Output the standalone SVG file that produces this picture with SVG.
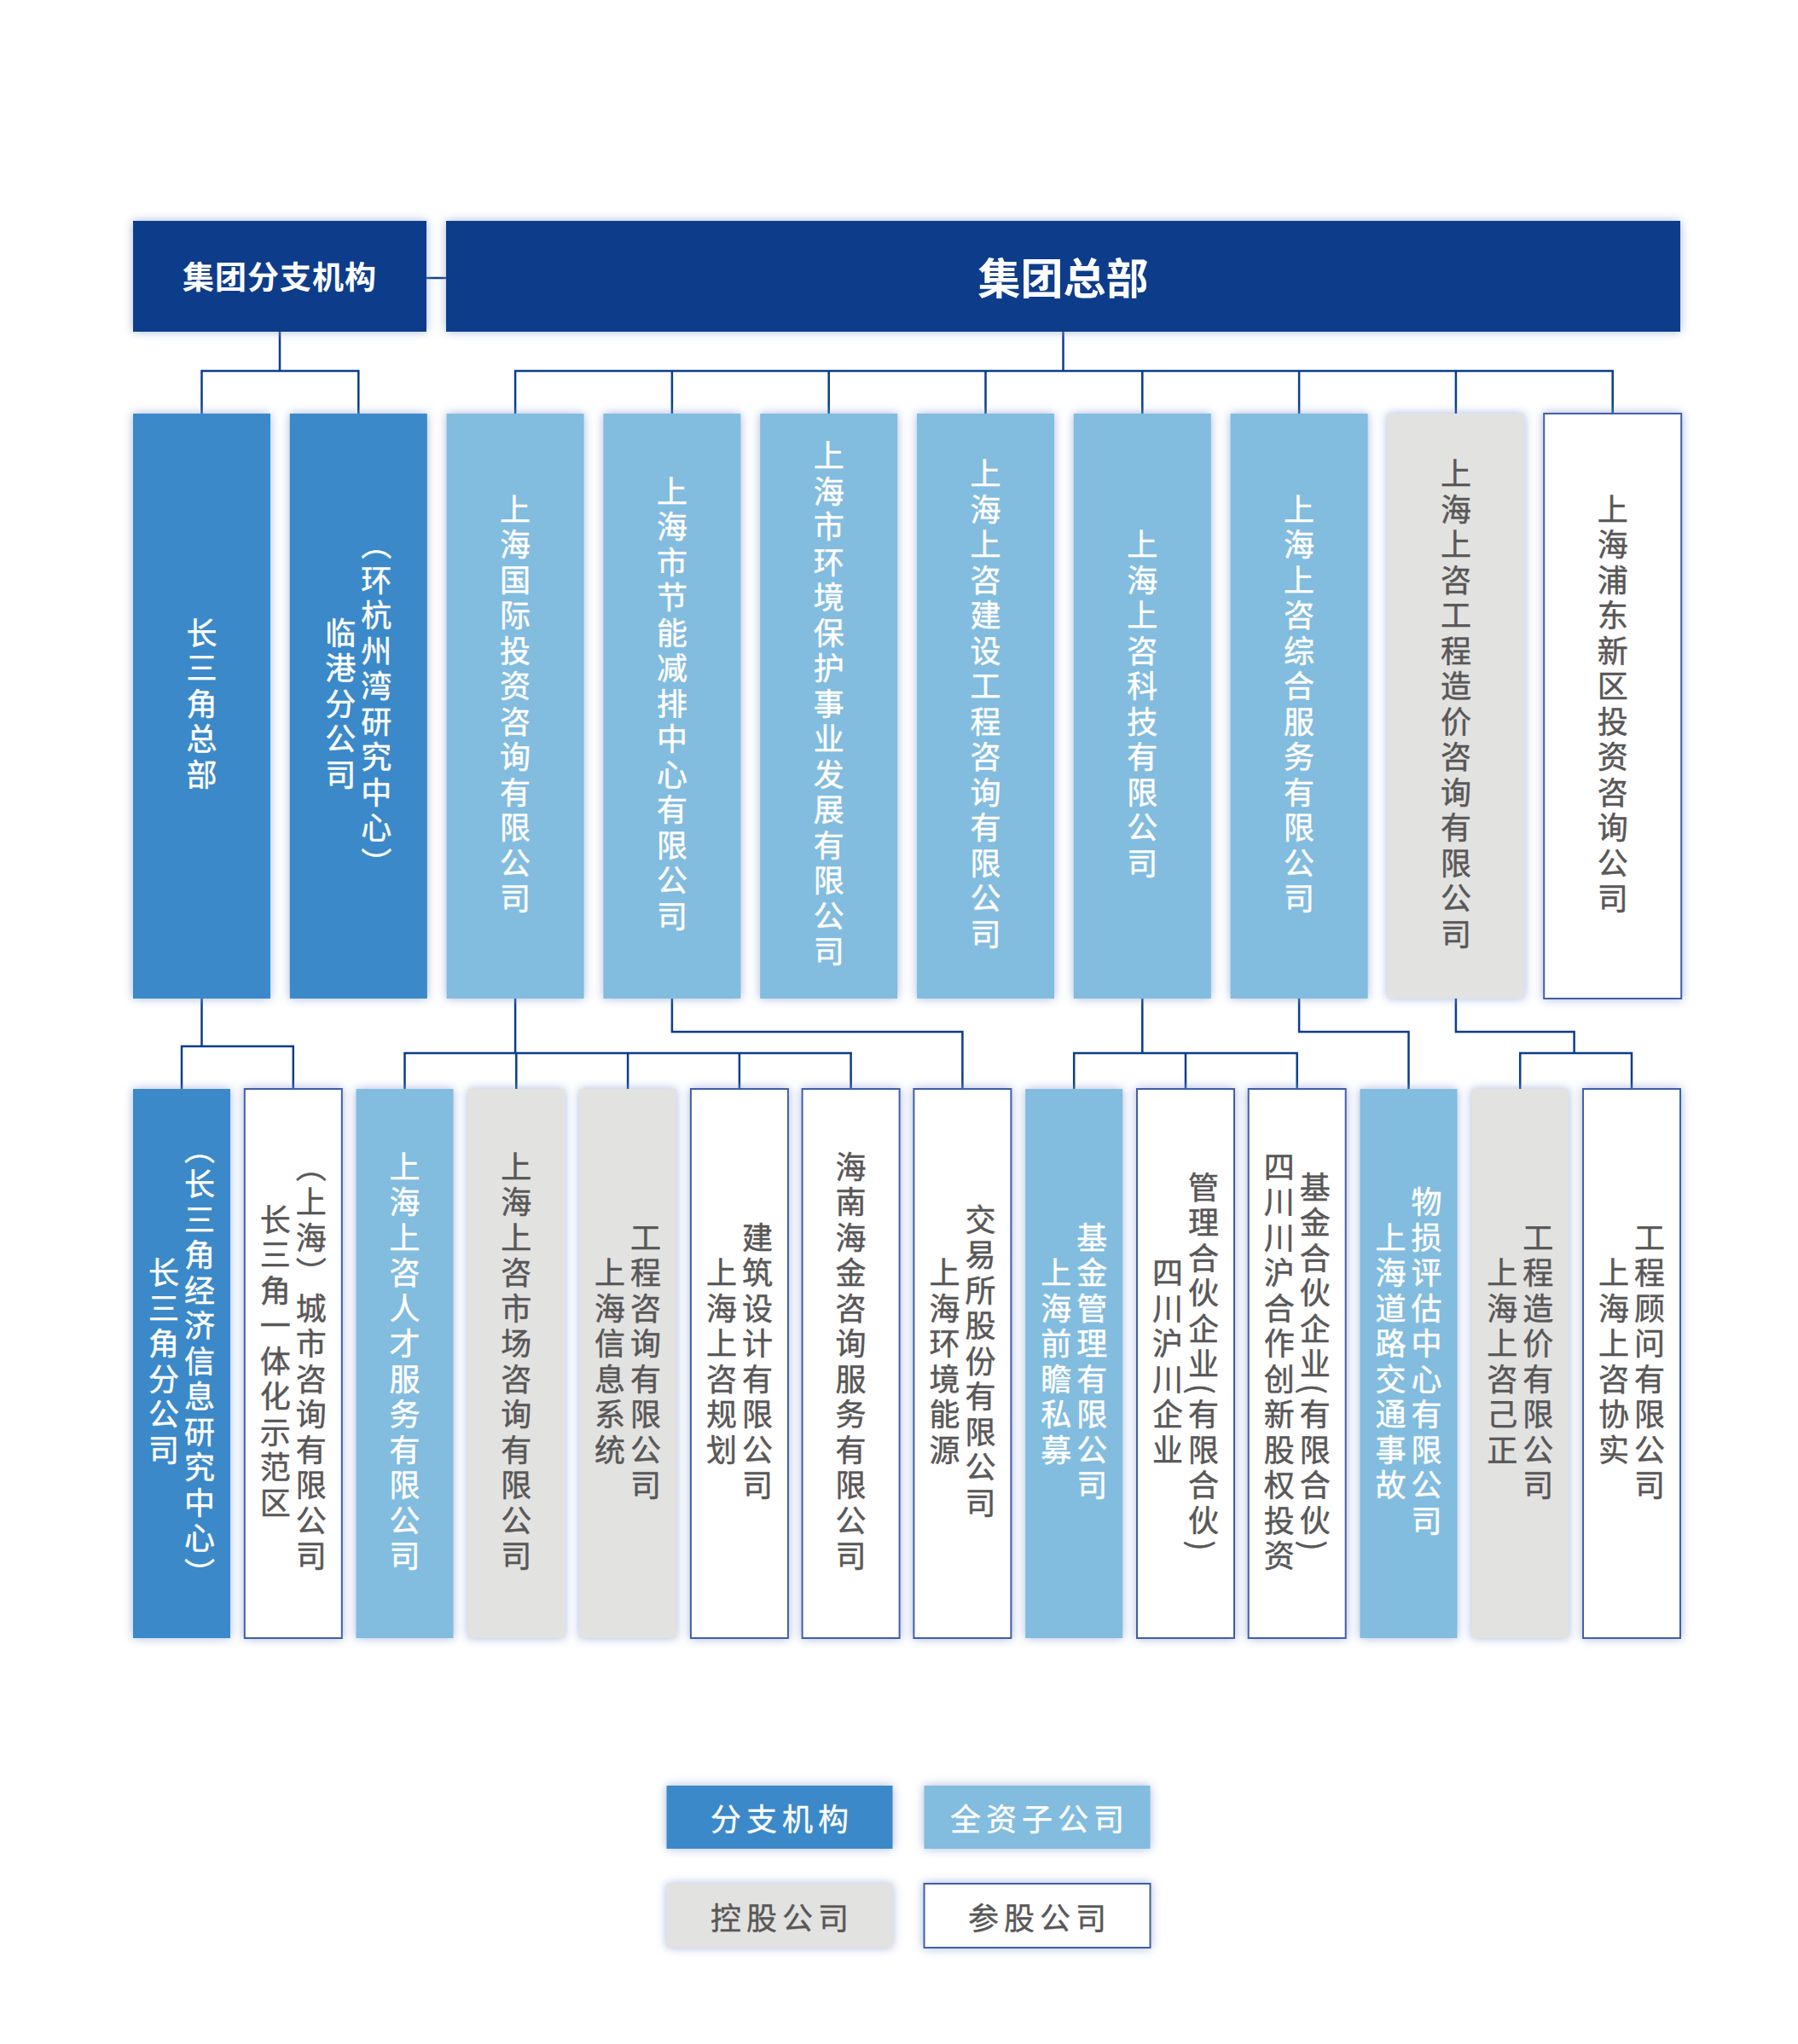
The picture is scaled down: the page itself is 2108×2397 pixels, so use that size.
<svg xmlns="http://www.w3.org/2000/svg" width="2108" height="2397" viewBox="0 0 2108 2397">
<defs>
<filter id="sh" x="-30%" y="-10%" width="160%" height="120%">
<feDropShadow dx="0" dy="0" stdDeviation="6" flood-color="#8aa0d4" flood-opacity="0.75"/>
</filter>
<filter id="shw" x="-10%" y="-30%" width="120%" height="160%">
<feDropShadow dx="0" dy="0" stdDeviation="6" flood-color="#8aa0d4" flood-opacity="0.75"/>
</filter>
</defs>
<style>
text{font-family:"Noto Sans CJK SC","Noto Sans",sans-serif;}
.navy{fill:#0b3d8a;}
.mb{fill:#3a89c9;}
.lb{fill:#82bcdf;}
.gr{fill:#e2e2e1;}
.wh{fill:#ffffff;stroke:#3f5ea6;stroke-width:2;}
.v{writing-mode:vertical-rl;font-size:36px;letter-spacing:5.5px;text-anchor:middle;stroke-width:0.5px;}
.tw{fill:#ffffff;stroke:#ffffff;}
.tg{fill:#595757;stroke:#595757;}
.leg{font-size:36px;letter-spacing:6px;text-anchor:middle;dominant-baseline:central;stroke-width:0.4px;}
.conn{fill:none;stroke:#0b3d8a;stroke-width:2.5;}
</style>
<rect width="2108" height="2397" fill="#ffffff"/>

<g id="connectors" class="conn">
<path d="M500 326H523"/>
<path d="M328 389V435M236.5 485V435H420.3V485"/>
<path d="M1246.5 389V435M604.1 485V435H1890.7V485M787.9 435V485M971.7 435V485M1155.5 435V485M1339.3 435V485M1523.1 435V485M1706.9 435V485"/>
<path d="M236.5 1171V1227M213 1277V1227H343.8V1277"/>
<path d="M604.1 1171V1235M474.5 1277V1235H997.6V1277M605.3 1235V1277M736.1 1235V1277M866.9 1235V1277"/>
<path d="M787.9 1171V1210H1128.4V1277"/>
<path d="M1339.3 1171V1235M1259.2 1277V1235H1520.7V1277M1390 1235V1277"/>
<path d="M1523.1 1171V1210H1651.5V1277"/>
<path d="M1706.9 1171V1210H1845.6V1235M1782.2 1277V1235H1913V1277"/>
</g>

<g id="branch-org">
<rect class="navy" x="156" y="259" width="344" height="130" filter="url(#shw)"/>
<text x="328" y="323" fill="#ffffff" font-size="37" font-weight="bold" text-anchor="middle" dominant-baseline="central" letter-spacing="1">集团分支机构</text>
</g>
<g id="hq">
<rect class="navy" x="523" y="259" width="1447" height="130" filter="url(#shw)"/>
<text x="1246.5" y="323" fill="#ffffff" font-size="50" font-weight="bold" text-anchor="middle" dominant-baseline="central">集团总部</text>
</g>

<!-- Row 2 -->
<g id="n-csj-hq">
<rect class="mb" x="156" y="485" width="161" height="686" filter="url(#sh)"/>
<text class="v tw" x="236.5" y="828">长三角总部</text>
</g>
<g id="n-lingang">
<rect class="mb" x="339.8" y="485" width="161" height="686" filter="url(#sh)"/>
<text class="v tw" x="399.3" y="828">临港分公司</text>
<text class="v tw" x="441.3" y="828">（环杭州湾研究中心）</text>
</g>
<g id="n-guoji">
<rect class="lb" x="523.6" y="485" width="161" height="686" filter="url(#sh)"/>
<text class="v tw" x="604.1" y="828">上海国际投资咨询有限公司</text>
</g>
<g id="n-jieneng">
<rect class="lb" x="707.4" y="485" width="161" height="686" filter="url(#sh)"/>
<text class="v tw" x="787.9" y="828">上海市节能减排中心有限公司</text>
</g>
<g id="n-huanbao">
<rect class="lb" x="891.2" y="485" width="161" height="686" filter="url(#sh)"/>
<text class="v tw" x="971.7" y="828">上海市环境保护事业发展有限公司</text>
</g>
<g id="n-jianshe">
<rect class="lb" x="1075" y="485" width="161" height="686" filter="url(#sh)"/>
<text class="v tw" x="1155.5" y="828">上海上咨建设工程咨询有限公司</text>
</g>
<g id="n-keji">
<rect class="lb" x="1258.8" y="485" width="161" height="686" filter="url(#sh)"/>
<text class="v tw" x="1339.3" y="828">上海上咨科技有限公司</text>
</g>
<g id="n-zonghe">
<rect class="lb" x="1442.6" y="485" width="161" height="686" filter="url(#sh)"/>
<text class="v tw" x="1523.1" y="828">上海上咨综合服务有限公司</text>
</g>
<g id="n-zaojia">
<rect class="gr" x="1626.4" y="485" width="161" height="686" filter="url(#sh)"/>
<text class="v tg" x="1706.9" y="828">上海上咨工程造价咨询有限公司</text>
</g>
<g id="n-pudong">
<rect class="wh" x="1810.2" y="485" width="161" height="686" filter="url(#sh)"/>
<text class="v tg" x="1890.7" y="828">上海浦东新区投资咨询公司</text>
</g>

<!-- Row 3 -->
<g id="n-csj-fen">
<rect class="mb" x="156" y="1277" width="114" height="644" filter="url(#sh)"/>
<text class="v tw" x="192" y="1599">长三角分公司</text>
<text class="v tw" x="234" y="1599">（长三角经济信息研究中心）</text>
</g>
<g id="n-chengshi">
<rect class="wh" x="286.8" y="1277" width="114" height="644" filter="url(#sh)"/>
<text class="v tg" x="322.8" y="1599">长三角一体化示范区</text>
<text class="v tg" x="364.8" y="1599">（上海）城市咨询有限公司</text>
</g>
<g id="n-rencai">
<rect class="lb" x="417.5" y="1277" width="114" height="644" filter="url(#sh)"/>
<text class="v tw" x="474.5" y="1599">上海上咨人才服务有限公司</text>
</g>
<g id="n-shichang">
<rect class="gr" x="548.3" y="1277" width="114" height="644" filter="url(#sh)"/>
<text class="v tg" x="605.3" y="1599">上海上咨市场咨询有限公司</text>
</g>
<g id="n-xinxi">
<rect class="gr" x="679.1" y="1277" width="114" height="644" filter="url(#sh)"/>
<text class="v tg" x="715.1" y="1599">上海信息系统</text>
<text class="v tg" x="757.1" y="1599">工程咨询有限公司</text>
</g>
<g id="n-guihua">
<rect class="wh" x="809.9" y="1277" width="114" height="644" filter="url(#sh)"/>
<text class="v tg" x="845.9" y="1599">上海上咨规划</text>
<text class="v tg" x="887.9" y="1599">建筑设计有限公司</text>
</g>
<g id="n-hainan">
<rect class="wh" x="940.6" y="1277" width="114" height="644" filter="url(#sh)"/>
<text class="v tg" x="997.6" y="1599">海南海金咨询服务有限公司</text>
</g>
<g id="n-nengyuan">
<rect class="wh" x="1071.4" y="1277" width="114" height="644" filter="url(#sh)"/>
<text class="v tg" x="1107.4" y="1599">上海环境能源</text>
<text class="v tg" x="1149.4" y="1599">交易所股份有限公司</text>
</g>
<g id="n-qianzhan">
<rect class="lb" x="1202.2" y="1277" width="114" height="644" filter="url(#sh)"/>
<text class="v tw" x="1238.2" y="1599">上海前瞻私募</text>
<text class="v tw" x="1280.2" y="1599">基金管理有限公司</text>
</g>
<g id="n-guanli">
<rect class="wh" x="1333" y="1277" width="114" height="644" filter="url(#sh)"/>
<text class="v tg" x="1369" y="1599">四川沪川企业</text>
<text class="v tg" x="1411" y="1599">管理合伙企业(有限合伙)</text>
</g>
<g id="n-jijin">
<rect class="wh" x="1463.7" y="1277" width="114" height="644" filter="url(#sh)"/>
<text class="v tg" x="1499.7" y="1599">四川川沪合作创新股权投资</text>
<text class="v tg" x="1541.7" y="1599">基金合伙企业(有限合伙)</text>
</g>
<g id="n-wusun">
<rect class="lb" x="1594.5" y="1277" width="114" height="644" filter="url(#sh)"/>
<text class="v tw" x="1630.5" y="1599">上海道路交通事故</text>
<text class="v tw" x="1672.5" y="1599">物损评估中心有限公司</text>
</g>
<g id="n-jizheng">
<rect class="gr" x="1725.2" y="1277" width="114" height="644" filter="url(#sh)"/>
<text class="v tg" x="1761.2" y="1599">上海上咨己正</text>
<text class="v tg" x="1803.2" y="1599">工程造价有限公司</text>
</g>
<g id="n-xieshi">
<rect class="wh" x="1856" y="1277" width="114" height="644" filter="url(#sh)"/>
<text class="v tg" x="1892" y="1599">上海上咨协实</text>
<text class="v tg" x="1934" y="1599">工程顾问有限公司</text>
</g>

<!-- Legend -->
<g id="legend-branch">
<rect class="mb" x="781.5" y="2094" width="265" height="74" filter="url(#shw)"/>
<text class="leg tw" x="917" y="2131">分支机构</text>
</g>
<g id="legend-whole">
<rect class="lb" x="1083.5" y="2094" width="265" height="74" filter="url(#shw)"/>
<text class="leg tw" x="1219" y="2131">全资子公司</text>
</g>
<g id="legend-holding">
<rect class="gr" x="781.5" y="2209" width="265" height="75" filter="url(#shw)"/>
<text class="leg tg" x="917" y="2246.5">控股公司</text>
</g>
<g id="legend-share">
<rect class="wh" x="1083.5" y="2209" width="265" height="75" filter="url(#shw)"/>
<text class="leg tg" x="1219" y="2246.5">参股公司</text>
</g>
</svg>
